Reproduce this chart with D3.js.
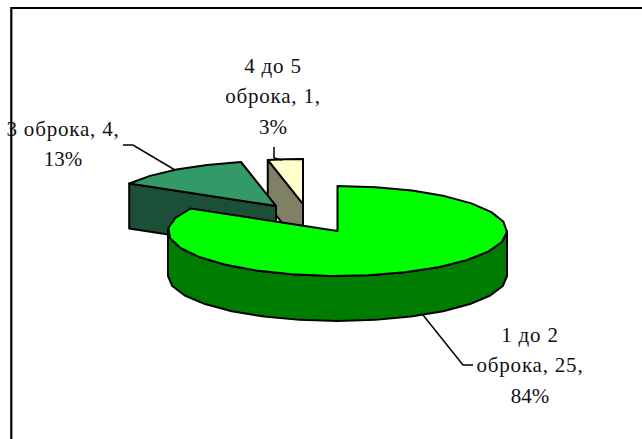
<!DOCTYPE html>
<html>
<head>
<meta charset="utf-8">
<script src="https://cdn.jsdelivr.net/npm/d3@7"></script>
<style>
  html, body { margin: 0; padding: 0; background: #fff; }
  svg { display: block; }
  text { font-family: "Liberation Serif", serif; font-size: 21px; fill: #111; text-anchor: middle; }
</style>
</head>
<body>
<svg width="642" height="439"></svg>
<script>
let categories = ['1 до 2 оброка', '3 оброка', '4 до 5 оброка']
let counts = [25, 4, 1]
let percents = ['84%', '13%', '3%']
let topColors = ['#00ff00', '#339966', '#ffffcc']
let sideColors = ['#007c00', '#1c4f38', '#808066']

let svg = d3.select('svg')

// pie tilted flat, so x and y get their own radius
let rx = 169.5, ry = 45, depth = 45
let centers = [[337.5, 231], [276, 206], [303, 204]]

let pie = d3.pie().sort(null).value(d => d)
let slices = pie(counts)

let line = d3.line()

function onRim(center, a) {
    return [center[0] + rx * Math.sin(a), center[1] - ry * Math.cos(a)]
}

function rim(center, from, to) {
    let steps = Math.max(2, Math.round(Math.abs(to - from) / (Math.PI / 14)))
    let angle = d3.scaleLinear().domain([0, steps]).range([from, to])
    return d3.range(steps + 1).map(i => onRim(center, angle(i)))
}

function drop(points) {
    return points.map(p => [p[0], p[1] + depth])
}

function wall(a, b) {
    return line(a.concat(drop(b).reverse())) + 'Z'
}

function drawSlice(i) {
    let s = slices[i]
    let c = centers[i]
    let g = svg.append('g')
        .attr('stroke', '#000')
        .attr('stroke-width', 2)
        .attr('stroke-linejoin', 'round')

    let arcPoints = rim(c, s.startAngle, s.endAngle)

    // side walls first, the top goes over them
    if (i == 0) {
        // only the part of the rim facing the viewer
        let front = rim(c, Math.PI / 2, Math.PI * 3 / 2)
        g.append('path').attr('d', wall(front, front)).attr('fill', sideColors[i])
    } else {
        let first = [c, arcPoints[0]]
        let last = [c, arcPoints[arcPoints.length - 1]]
        g.append('path').attr('d', wall(last, last)).attr('fill', sideColors[i])
        g.append('path').attr('d', wall(first, first)).attr('fill', sideColors[i])
    }

    g.append('path')
        .attr('d', line([c].concat(arcPoints)) + 'Z')
        .attr('fill', topColors[i])
}

drawSlice(2)
drawSlice(1)
drawSlice(0)

// leader lines
let leaders = [
    [[423, 315], [463, 365], [473, 365]],
    [[175, 170], [133, 145], [123, 145]],
    [[282, 160], [274, 158], [274, 147]]
]
svg.selectAll('.leader')
    .data(leaders)
    .enter()
    .append('path')
    .attr('class', 'leader')
    .attr('d', d => line(d))
    .attr('fill', 'none')
    .attr('stroke', '#000')
    .attr('stroke-width', 1.5)

// labels
let labels = [
    { x: 530, y: 342, lines: ['1 до 2', `оброка, ${counts[0]},`, percents[0]] },
    { x: 63, y: 136, lines: [`3 оброка, ${counts[1]},`, percents[1]] },
    { x: 273, y: 73, lines: ['4 до 5', `оброка, ${counts[2]},`, percents[2]] }
]
labels.forEach(l => {
    l.lines.forEach((t, i) => {
        svg.append('text')
            .attr('x', l.x)
            .attr('y', l.y + i * 30.3)
            // the cyrillic lines run a bit wider in the original
            .attr('letter-spacing', t.endsWith('%') ? 0 : 0.8)
            .text(t)
    })
})

// frame of the chart area, it runs over the left label
svg.append('path')
    .attr('d', line([[11.3, 439], [11.3, 8], [642, 8]]))
    .attr('fill', 'none')
    .attr('stroke', '#000')
    .attr('stroke-width', 2.2)
</script>
</body>
</html>
